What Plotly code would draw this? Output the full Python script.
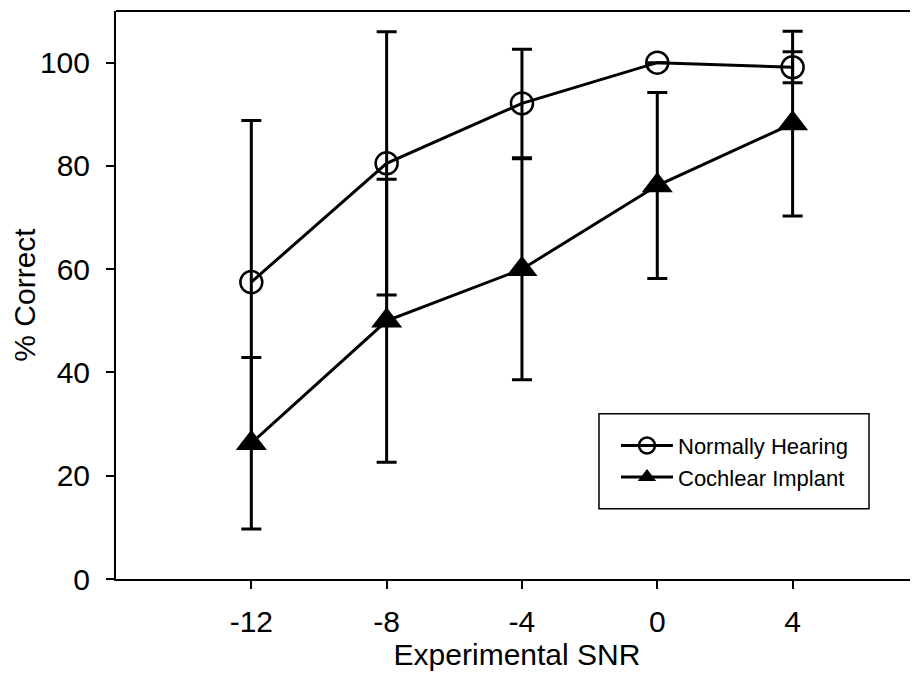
import plotly.graph_objects as go

snr = [-12, -8, -4, 0, 4]
nh_mean = [57.5, 80.5, 92.1, 100.0, 99.1]
nh_err = [31.3, 25.5, 10.5, 0.0, 3.0]
ci_mean = [26.3, 50.0, 60.0, 76.2, 88.2]
ci_err = [16.6, 27.4, 21.4, 18.0, 17.9]
x_ticks = [-12, -8, -4, 0, 4]
y_ticks = [0, 20, 40, 60, 80, 100]

FONT = "Liberation Sans, Arial, Helvetica, sans-serif"

# page body has an 8px margin; plot area spans x 116..918, y 10.7..579.3 on screen
PW = 802
PH = 568

fig = go.Figure()
fig.add_trace(go.Scatter(
    x=snr, y=nh_mean, name="Normally Hearing", mode="lines+markers",
    line=dict(color="black", width=3),
    marker=dict(symbol="circle-open", size=22, color="black", line=dict(width=2.5, color="black")),
    error_y=dict(type="data", array=nh_err, visible=True, color="black", thickness=3, width=10),
))
fig.add_trace(go.Scatter(
    x=snr, y=ci_mean, name="Cochlear Implant", mode="lines+markers",
    line=dict(color="black", width=3),
    marker=dict(symbol="triangle-up", size=27, color="black", line=dict(width=0)),
    error_y=dict(type="data", array=ci_err, visible=True, color="black", thickness=3, width=10),
))

# top frame line
fig.add_shape(type="line", xref="paper", yref="paper", x0=0, x1=1, y0=1, y1=1,
              line=dict(color="black", width=2))
# legend box
fig.add_shape(type="rect", xref="paper", yref="paper",
              x0=(599 - 116) / PW, x1=(869 - 116) / PW,
              y0=(579.3 - 509) / PH, y1=(579.3 - 414) / PH,
              line=dict(color="black", width=1.5), fillcolor="rgba(0,0,0,0)")

fig.update_layout(
    width=910, height=665,
    margin=dict(l=108, r=0, t=3, b=94),
    paper_bgcolor="white", plot_bgcolor="white",
    font=dict(family=FONT, color="black"),
    showlegend=True,
    legend=dict(
        x=(616 - 116) / PW, y=(579.3 - 425) / PH, xanchor="left", yanchor="top",
        bgcolor="rgba(0,0,0,0)", borderwidth=0,
        font=dict(size=22, family=FONT, color="black"),
        itemwidth=52, tracegroupgap=0,
    ),
    xaxis=dict(
        range=[-16, -16 + PW / 33.83], tickvals=x_ticks, ticktext=[str(v) for v in x_ticks],
        showline=True, linecolor="black", linewidth=2, showgrid=False, zeroline=False,
        ticks="outside", ticklen=8, tickwidth=1.5, tickcolor="black",
        tickfont=dict(size=30, family=FONT, color="black"), ticklabelstandoff=7,
        title=dict(text="Experimental SNR", font=dict(size=30, family=FONT, color="black"), standoff=4),
    ),
    yaxis=dict(
        range=[0, 110], tickvals=y_ticks,
        showline=True, linecolor="black", linewidth=2, showgrid=False, zeroline=False,
        ticks="outside", ticklen=8, tickwidth=1.5, tickcolor="black",
        tickfont=dict(size=30, family=FONT, color="black"), ticklabelstandoff=10,
        title=dict(text="% Correct", font=dict(size=30, family=FONT, color="black"), standoff=2),
    ),
)

fig.write_html("out.html")
